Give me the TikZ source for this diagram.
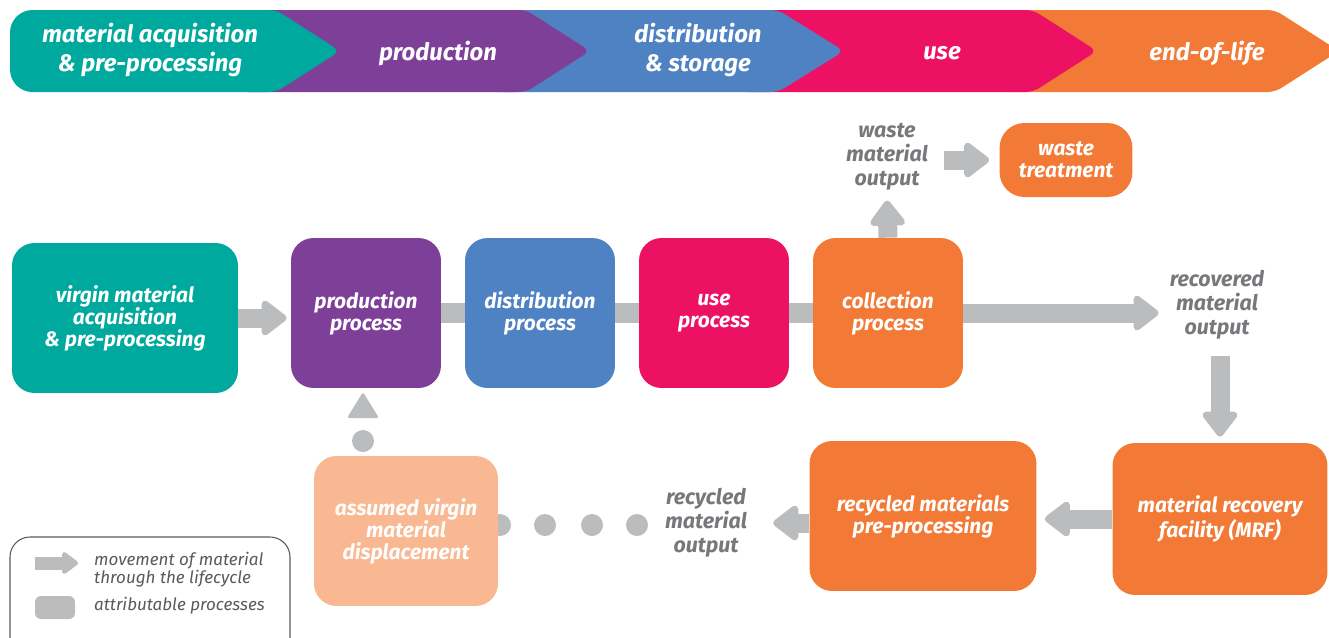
\documentclass[tikz,border=0pt]{standalone}
\usepackage{fontspec}
\setmainfont{Fira Sans}
\usetikzlibrary{arrows.meta,positioning}
\definecolor{lcteal}{HTML}{00A99D}
\definecolor{lcpurple}{HTML}{7E3F98}
\definecolor{lcblue}{HTML}{4F82C3}
\definecolor{lcpink}{HTML}{ED1164}
\definecolor{lcorange}{HTML}{F37A36}
\definecolor{lcpeach}{HTML}{F9B891}
\definecolor{flowgray}{HTML}{BBBCBE}
\definecolor{labelgray}{HTML}{77787B}
\definecolor{keygray}{HTML}{58595B}
\tikzset{
  proc/.style={rounded corners=0.45cm, minimum width=3cm, minimum height=3cm,
    text=white, align=center, inner sep=2pt,
    font=\bfseries\itshape\fontsize{11.9}{12.5}\selectfont},
  stage/.style={text=white, align=center,
    font=\bfseries\itshape\fontsize{13.6}{16.4}\selectfont},
  outlabel/.style={text=labelgray, align=center,
    font=\bfseries\itshape\fontsize{12.2}{13.6}\selectfont},
  keytext/.style={text=keygray, align=left, anchor=west,
    font=\itshape\fontsize{9.7}{10.2}\selectfont},
  flow/.style={draw=flowgray, line width=0.38cm,
    -{Triangle[width=0.8cm,length=0.55cm,round]}},
  bar/.style={draw=flowgray, line width=0.4cm}
}
\begin{document}
\begin{tikzpicture}[x=0.02cm,y=-0.02cm]
	\useasboundingbox (0,0) rectangle (1329,637);
	% lifecycle stages, right to left so each tip lies on the next one
	\fill[lcorange, rounded corners=0.15cm] (1000,10) -- (1275,10) -- (1339,51) -- (1275,92) -- (1000,92) -- cycle;
	\fill[lcpink, rounded corners=0.15cm] (740,10) -- (1033,10) -- (1097,51) -- (1033,92) -- (740,92) -- cycle;
	\fill[lcblue, rounded corners=0.15cm] (490,10) -- (778,10) -- (844,51) -- (778,92) -- (490,92) -- cycle;
	\fill[lcpurple, rounded corners=0.15cm] (240,10) -- (526,10) -- (590,51) -- (526,92) -- (240,92) -- cycle;
	\fill[lcteal] [rounded corners=0.45cm] (10,51) -- (10,10) [rounded corners=0.15cm] -- (276,10) -- (340,51) -- (276,92) [rounded corners=0.45cm] -- (10,92) -- (10,51);
	\node[stage] (st1) at (150,50) {material acquisition\\\& pre-processing};
	\node[stage] (st2) at (438,53) {production};
	\node[stage] (st3) at (698,50) {distribution\\\& storage};
	\node[stage] (st4) at (942,53) {use};
	\node[stage] (st5) at (1207,53) {end-of-life};

	% processes
	\node[proc, fill=lcteal, minimum width=4.52cm] (virgin) at (125,318) {virgin material\\acquisition\\\& pre-processing};
	\node[proc, fill=lcpurple] (prod) at (366,313) {production\\process};
	\node[proc, fill=lcblue] (dist) at (540,313) {distribution\\process};
	\node[proc, fill=lcpink] (use) at (714,313) {use\\process};
	\node[proc, fill=lcorange] (coll) at (888,313) {collection\\process};
	\node[proc, fill=lcorange, minimum width=2.66cm, minimum height=1.48cm, rounded corners=0.5cm] (wtreat) at (1066,160) {waste\\treatment};
	\node[outlabel] (wout) at (887,157) {waste\\material\\output};
	\node[outlabel] (rout) at (1217,305) {recovered\\material\\output};
	\node[proc, fill=lcorange, minimum width=4.3cm, minimum height=3.04cm] (mrf) at (1220,519) {material recovery\\facility (MRF)};
	\node[proc, fill=lcorange, minimum width=4.54cm] (rpre) at (923,516) {recycled materials\\pre-processing};
	\node[outlabel] (rcout) at (706,523) {recycled\\material\\output};

	% assumed displacement, dots behind the box
	\foreach \x in {500,545,592,637}
		\fill[flowgray] (\x,525) circle (0.22cm);
	\fill[flowgray] (363,441) circle (0.22cm);
	\fill[flowgray, rounded corners=0.05cm] (347,418) -- (363,392) -- (379,418) -- cycle;
	\node[proc, fill=lcpeach, minimum width=3.68cm] (displ) at (406,531) {assumed virgin\\material\\displacement};

	% material flows
	\draw[flow, shorten >=0.08cm] (virgin.east) -- (virgin.east -| prod.west);
	\draw[bar] (prod.east) -- (dist.west);
	\draw[bar] (dist.east) -- (use.west);
	\draw[bar] (use.east) -- (coll.west);
	\draw[flow, shorten >=0.1cm] (coll.east) -- (coll.east -| rout.west);
	\draw[flow, shorten >=0.08cm] (coll.north) -- (wout.south);
	\draw[flow, shorten <=0.2cm, shorten >=0.2cm] (wout.east |- wtreat.west) -- (wtreat.west);
	\draw[flow, shorten <=0.2cm, shorten >=0.12cm] (rout.south -| mrf.north) -- (mrf.north);
	\draw[flow, shorten >=0.16cm] (mrf.west) -- (rpre.east |- mrf.west);
	\draw[flow, shorten >=0.4cm] (rpre.west |- rcout.east) -- (rcout.east);

	% key
	\draw[keygray, line width=0.6pt, rounded corners=0.4cm] (10,537) rectangle (290,660);
	\draw[flow, line width=0.26cm, -{Triangle[width=0.5cm,length=0.35cm,round]}] (35,563) -- (78,563);
	\fill[flowgray, rounded corners=0.12cm] (35,596) rectangle (75,619);
	\node[keytext] (kmove) at (88,570) {movement of material\\through the lifecycle};
	\node[keytext] (kproc) at (88,606) {attributable processes};
\end{tikzpicture}
\end{document}
